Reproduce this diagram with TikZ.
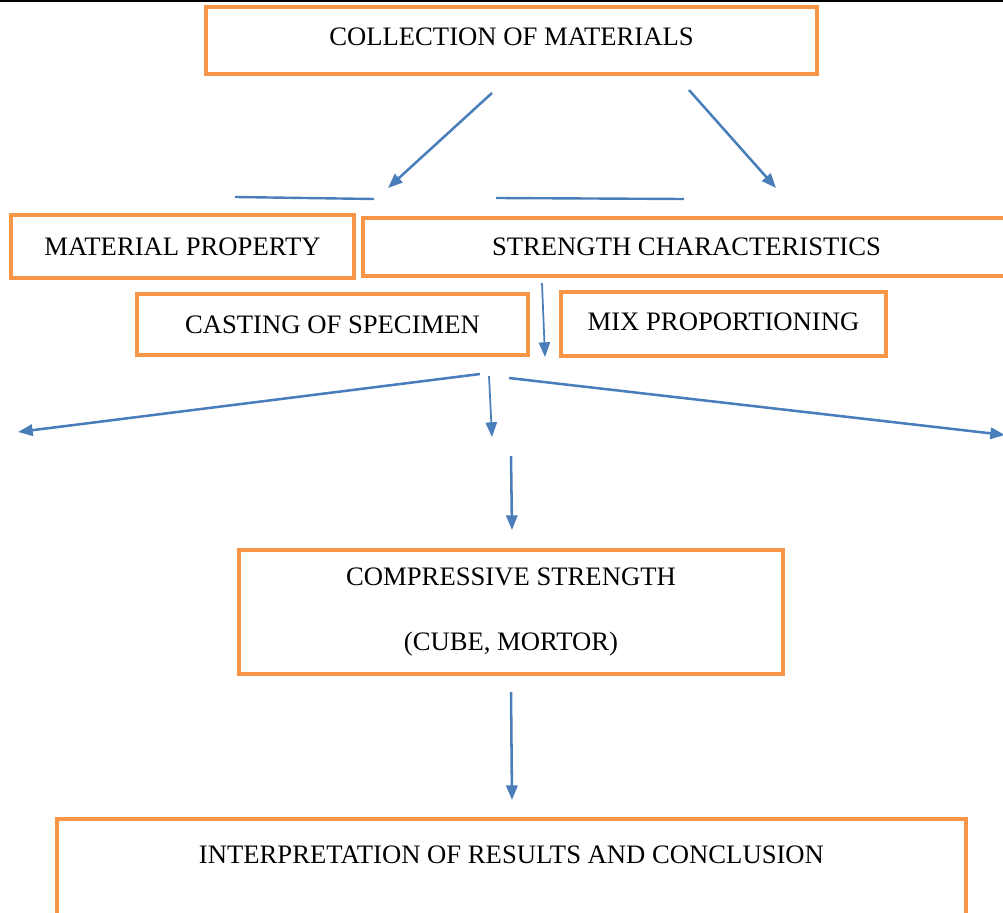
\documentclass[tikz,border=0pt]{standalone}
\usepackage{fontspec}
\setmainfont{Liberation Serif}
\usetikzlibrary{arrows.meta,positioning}
\definecolor{boxorange}{RGB}{247,150,70}
\definecolor{flowblue}{RGB}{74,126,187}

\begin{document}
\begin{tikzpicture}[x=0.75pt,y=-0.75pt,
    box/.style={draw=boxorange, line width=3.2pt, inner sep=0pt,
        font=\fontsize{20}{22}\selectfont},
    flow/.style={flowblue, line width=1.9pt, -{Triangle[length=11pt,width=8.5pt]}},
    thinflow/.style={flow, line width=1.3pt},
    bar/.style={flowblue, line width=1.8pt}]
    \useasboundingbox (0,0) rectangle (1003,913);
    \clip (0,0) rectangle (1003,913);
    % page edge
    \draw[line width=1.5pt] (0,1) -- (1003,1);
    % boxes
    \node[box, minimum width=458pt, minimum height=50pt, text depth=5pt] (coll) at (511.5,40.5) {COLLECTION OF MATERIALS};
    \node[box, minimum width=257pt, minimum height=47pt] (matprop) at (182.5,246.5) {MATERIAL PROPERTY};
    \node[box, minimum width=485pt, minimum height=43.5pt] (strength) at (686.5,247) {STRENGTH CHARACTERISTICS};
    \node[box, minimum width=293pt, minimum height=46pt] (casting) at (332.5,324.5) {CASTING OF SPECIMEN};
    \node[box, minimum width=244pt, minimum height=48pt, text depth=4pt] (mix) at (723.5,324) {MIX PROPORTIONING};
    \node[box, minimum width=408pt, minimum height=93pt, align=center] (comp) at (511,612)
        {COMPRESSIVE STRENGTH\\[27pt](CUBE, MORTOR)};
    \node[box, minimum width=682pt, minimum height=81pt, text depth=28pt, anchor=north] (interp) at (511.5,817)
        {INTERPRETATION OF RESULTS AND CONCLUSION};
    % connector ends
    \coordinate (collL) at (492,93);
    \coordinate (collLend) at (388,188);
    \coordinate (collR) at (689,90);
    \coordinate (collRend) at (776,188);
    \coordinate (barLa) at (235,197);
    \coordinate (barLb) at (374,199);
    \coordinate (barRa) at (496,198);
    \coordinate (barRb) at (684,199);
    \coordinate (strDown) at (542,283);
    \coordinate (strDownend) at (545,357);
    \coordinate (fanL) at (480,374);
    \coordinate (fanLend) at (18,432);
    \coordinate (fanM) at (489,376);
    \coordinate (fanMend) at (492,437);
    \coordinate (fanR) at (509,378);
    \coordinate (fanRend) at (1005,435);
    \coordinate (toComp) at (511,456);
    \coordinate (toCompend) at (512,530);
    \coordinate (fromComp) at (511,692);
    \coordinate (fromCompend) at (512,800);
    % arrows
    \draw[flow] (collL) -- (collLend);
    \draw[flow] (collR) -- (collRend);
    \draw[bar] (barLa) -- (barLb);
    \draw[bar] (barRa) -- (barRb);
    \draw[thinflow] (strDown) -- (strDownend);
    \draw[flow] (fanL) -- (fanLend);
    \draw[thinflow] (fanM) -- (fanMend);
    \draw[flow] (fanR) -- (fanRend);
    \draw[flow] (toComp) -- (toCompend);
    \draw[flow] (fromComp) -- (fromCompend);
\end{tikzpicture}
\end{document}
